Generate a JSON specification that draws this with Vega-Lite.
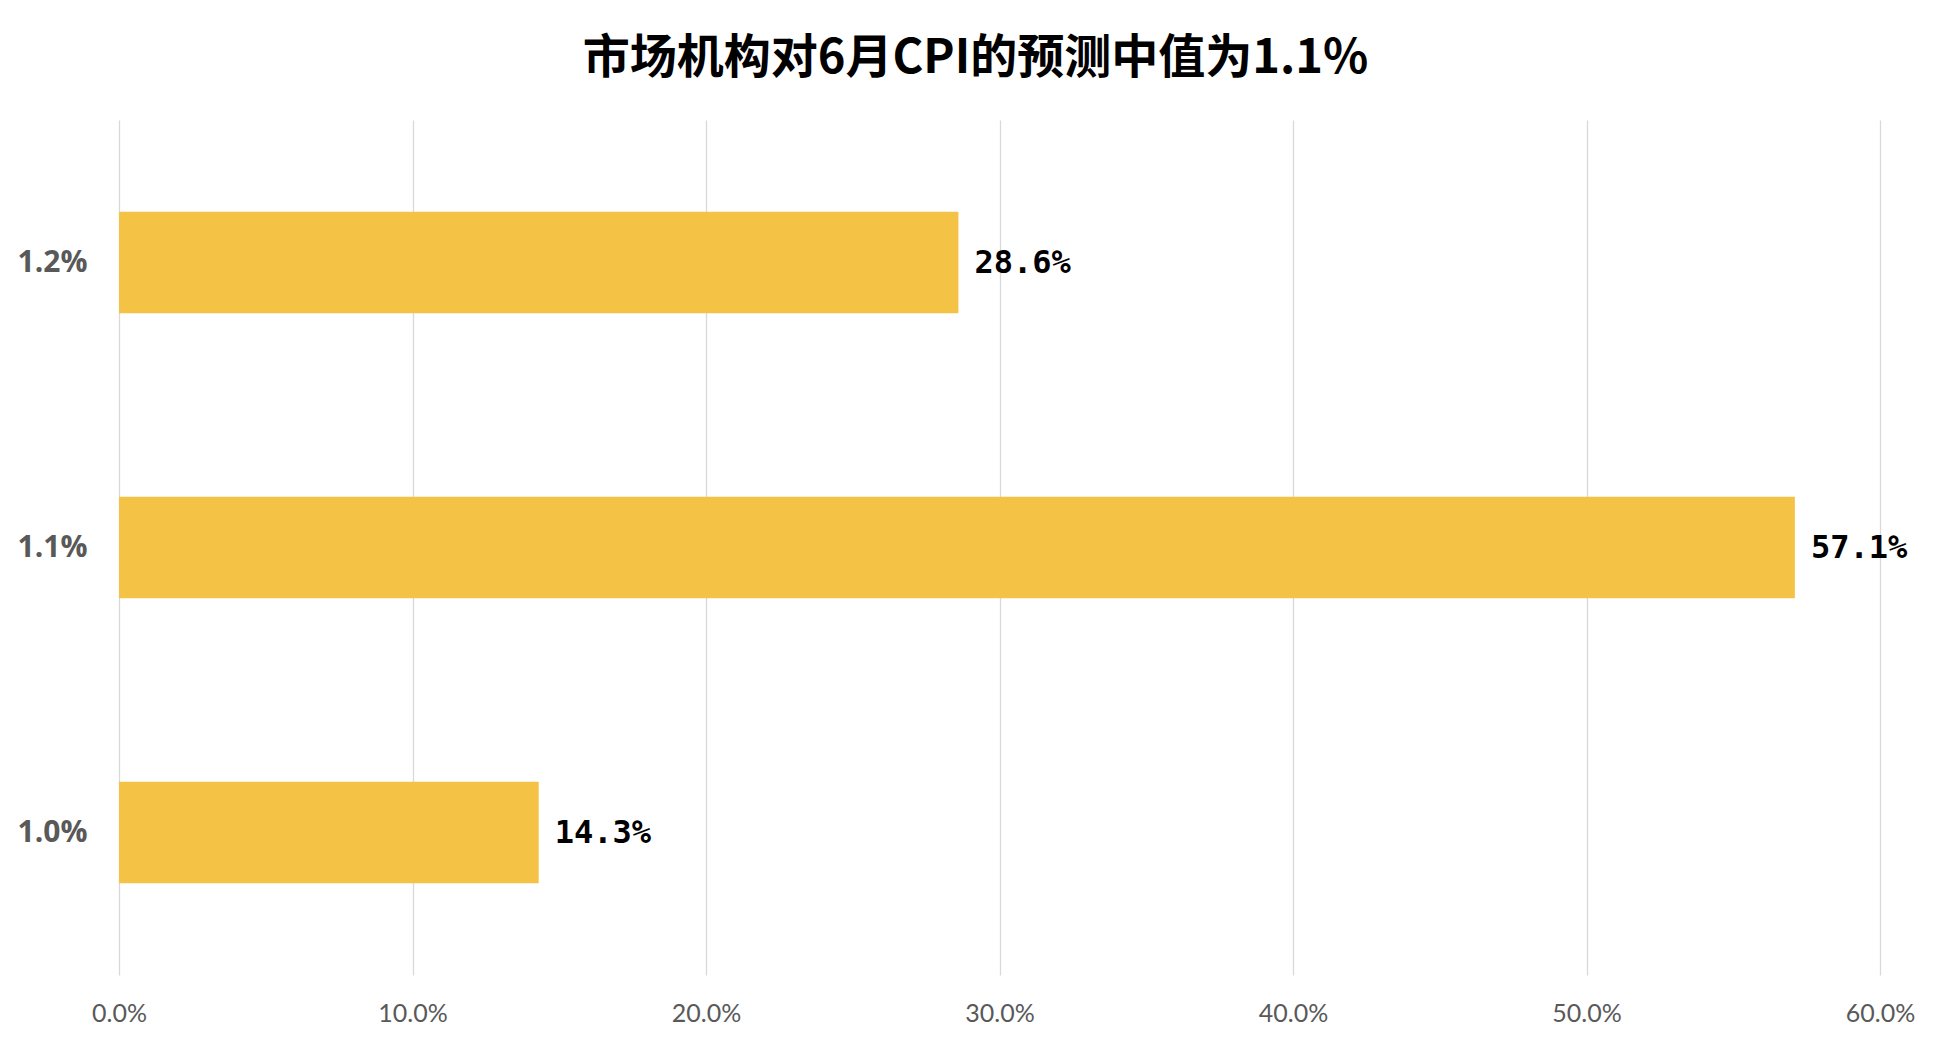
{
  "$schema": "https://vega.github.io/schema/vega-lite/v6.json",
  "width": 1761,
  "height": 855,
  "autosize": {"type": "none"},
  "padding": {"left": 119, "top": 120, "right": 68, "bottom": 73},
  "background": "white",
  "title": {
    "text": "市场机构对6月CPI的预测中值为1.1%",
    "font": "Noto Sans CJK SC",
    "fontWeight": "bold",
    "fontSize": 47,
    "color": "#000000",
    "anchor": "middle",
    "dx": -24,
    "offset": 37
  },
  "data": {
    "values": [
      {"forecast": "1.2%", "share": 0.286},
      {"forecast": "1.1%", "share": 0.571},
      {"forecast": "1.0%", "share": 0.143}
    ]
  },
  "config": {
    "view": {"stroke": null},
    "axis": {"domain": false, "ticks": false, "title": null}
  },
  "encoding": {
    "y": {
      "field": "forecast",
      "type": "nominal",
      "sort": "descending",
      "scale": {"paddingInner": 0.643, "paddingOuter": 0.3215},
      "axis": {
        "labelFont": "Open Sans",
        "labelFontSize": 30,
        "labelFontWeight": "bold",
        "labelColor": "#595959",
        "labelPadding": 32,
        "grid": false
      }
    },
    "x": {
      "field": "share",
      "type": "quantitative",
      "scale": {"domain": [0, 0.6], "nice": false},
      "axis": {
        "values": [0, 0.1, 0.2, 0.3, 0.4, 0.5, 0.6],
        "format": ".1%",
        "labelFont": "Lato",
        "labelFontSize": 25,
        "labelColor": "#595959",
        "labelPadding": 26,
        "grid": true,
        "gridColor": "#d9d9d9",
        "gridWidth": 1.3,
        "labelFlush": false
      }
    }
  },
  "layer": [
    {"mark": {"type": "bar", "color": "#F4C244"}},
    {
      "mark": {
        "type": "text",
        "align": "left",
        "baseline": "middle",
        "dx": 16,
        "font": "DejaVu Sans Mono",
        "fontWeight": "bold",
        "fontSize": 32,
        "color": "#000000"
      },
      "encoding": {
        "text": {"field": "share", "type": "quantitative", "format": ".1%"}
      }
    }
  ]
}
